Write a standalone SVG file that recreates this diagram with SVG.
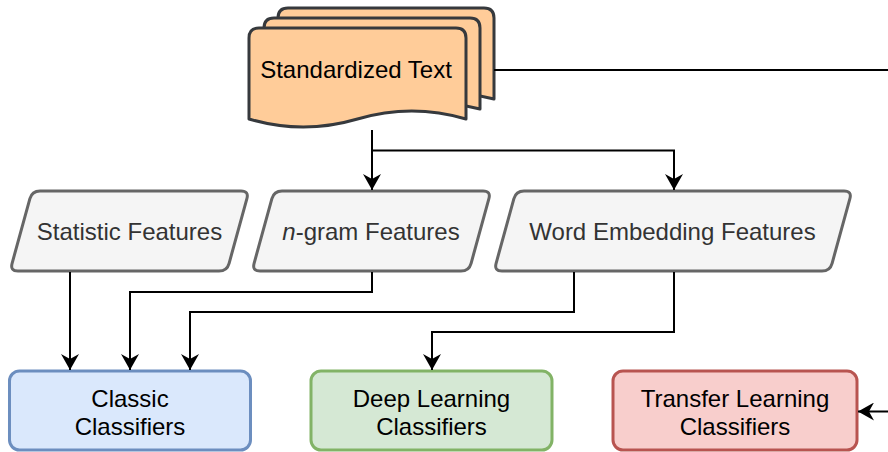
<svg xmlns="http://www.w3.org/2000/svg" width="888" height="452" viewBox="0 0 888 452">
  <style>
    .doc { fill: #ffcc99; stroke: #36393d; stroke-width: 3; stroke-linejoin: round; }
    .feat { fill: #f5f5f5; stroke: #666666; stroke-width: 3; stroke-linejoin: round; }
    .lbl { font-family: "Liberation Sans", Arial, sans-serif; font-size: 24px; text-anchor: middle; }
    .dark { fill: #333333; }
    .black { fill: #000000; }
    .edge { fill: none; stroke: #000000; stroke-width: 2; }
  </style>
  <defs>
    <marker id="arrow" markerUnits="userSpaceOnUse" markerWidth="18" markerHeight="18" refX="16" refY="9" orient="auto" viewBox="0 0 18 18">
      <path d="M0,0 L16,9 L0,18 L5,9 Z" fill="#000000"/>
    </marker>
  </defs>

  <!-- stacked documents -->
  <g id="standardized-text">
    <path class="doc" d="M278,99 L278,18 Q278,8 288,8 L484,8 Q494,8 494,18 L494,99 Q440,85 386,99 Q332,113 278,99 Z"/>
    <path class="doc" d="M264,109 L264,28 Q264,18 274,18 L470,18 Q480,18 480,28 L480,109 Q426,95 372,109 Q318,123 264,109 Z"/>
    <path class="doc" d="M249,119 L249,38 Q249,28 259,28 L456,28 Q466,28 466,38 L466,119 Q411.75,103 357.5,119 Q303.25,135 249,119 Z"/>
    <text class="lbl black" x="356" y="78">Standardized Text</text>
  </g>

  <!-- feature extractors -->
  <g id="statistic-features">
    <path class="feat" d="M12.1,263.3 L29.9,198.7 Q32,191 40,191 L241,191 Q249,191 246.9,198.7 L229.1,263.3 Q227,271 219,271 L18,271 Q10,271 12.1,263.3 Z"/>
    <text class="lbl dark" x="129.5" y="240">Statistic Features</text>
  </g>
  <g id="ngram-features">
    <path class="feat" d="M254.1,263.3 L271.9,198.7 Q274,191 282,191 L483,191 Q491,191 488.9,198.7 L471.1,263.3 Q469,271 461,271 L260,271 Q252,271 254.1,263.3 Z"/>
    <text class="lbl dark" x="371" y="240"><tspan font-style="italic">n</tspan>-gram Features</text>
  </g>
  <g id="word-embedding-features">
    <path class="feat" d="M496.1,263.3 L513.9,198.7 Q516,191 524,191 L844,191 Q852,191 849.9,198.7 L832.1,263.3 Q830,271 822,271 L502,271 Q494,271 496.1,263.3 Z"/>
    <text class="lbl dark" x="672.5" y="240">Word Embedding Features</text>
  </g>

  <!-- classifiers -->
  <g id="classic-classifiers">
    <rect x="9.5" y="371" width="241" height="79" rx="10" fill="#dae8fc" stroke="#6c8ebf" stroke-width="3"/>
    <text class="lbl black" x="130" y="407">Classic</text>
    <text class="lbl black" x="130" y="435">Classifiers</text>
  </g>
  <g id="deep-learning-classifiers">
    <rect x="311" y="371" width="241" height="79" rx="10" fill="#d5e8d4" stroke="#82b366" stroke-width="3"/>
    <text class="lbl black" x="431.5" y="407">Deep Learning</text>
    <text class="lbl black" x="431.5" y="435">Classifiers</text>
  </g>
  <g id="transfer-learning-classifiers">
    <rect x="613" y="371" width="244" height="79" rx="10" fill="#f8cecc" stroke="#b85450" stroke-width="3"/>
    <text class="lbl black" x="735" y="407">Transfer Learning</text>
    <text class="lbl black" x="735" y="435">Classifiers</text>
  </g>

  <!-- connectors -->
  <g id="connectors">
    <path class="edge" d="M372,130 L372,190" marker-end="url(#arrow)"/>
    <path class="edge" d="M372,150.5 L674,150.5 L674,190" marker-end="url(#arrow)"/>
    <path class="edge" d="M494,70 L888,70"/>
    <path class="edge" d="M70,272 L70,370" marker-end="url(#arrow)"/>
    <path class="edge" d="M372,272 L372,292 L130,292 L130,370" marker-end="url(#arrow)"/>
    <path class="edge" d="M574,272 L574,312 L190,312 L190,370" marker-end="url(#arrow)"/>
    <path class="edge" d="M674,272 L674,332 L432,332 L432,370" marker-end="url(#arrow)"/>
    <path class="edge" d="M888,411.5 L858,411.5" marker-end="url(#arrow)"/>
  </g>
</svg>
